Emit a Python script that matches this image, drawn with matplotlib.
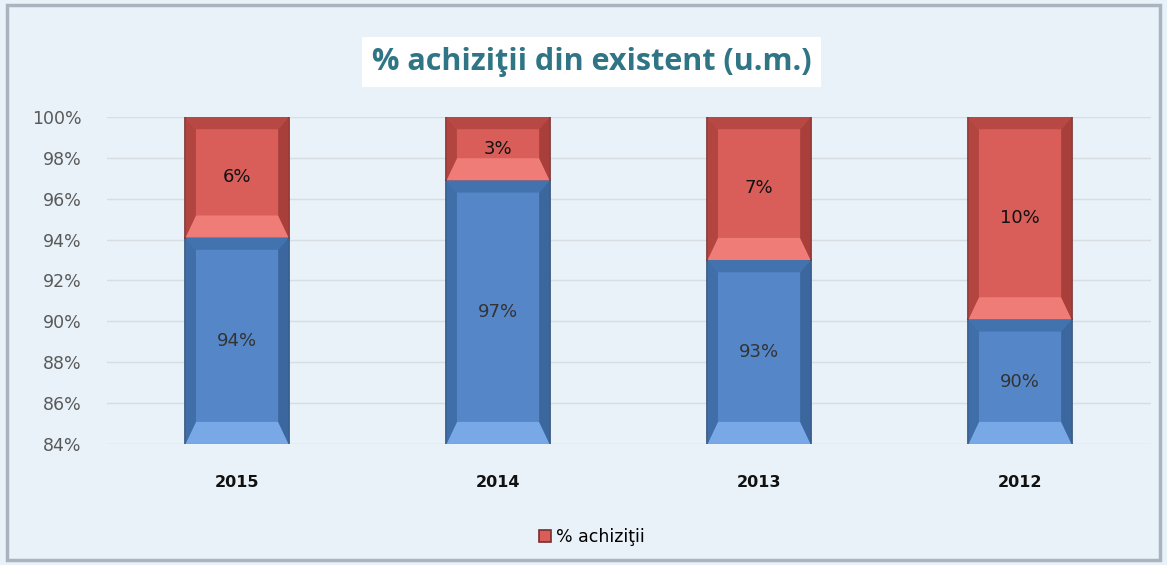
import matplotlib.pyplot as plt
from matplotlib.patches import Polygon, Rectangle

years = ['2015', '2014', '2013', '2012']
existent = [94.1, 96.9, 93.0, 90.1]
achizitii = [5.9, 3.1, 7.0, 9.9]
yticks = [84, 86, 88, 90, 92, 94, 96, 98, 100]
ymin = 84


def bevel(ax, patch, top, bottom, side_l, side_r, bw, bh):
    # fake the excel "bevel" look with four trapezoids inside the bar
    x0, y0 = patch.get_x(), patch.get_y()
    x1, y1 = x0 + patch.get_width(), y0 + patch.get_height()
    bh = min(bh, (y1 - y0) / 4)
    bb = bh * 1.8
    parts = [
        ([(x0, y1), (x1, y1), (x1 - bw, y1 - bh), (x0 + bw, y1 - bh)], top),
        ([(x0, y0), (x1, y0), (x1 - bw, y0 + bb), (x0 + bw, y0 + bb)], bottom),
        ([(x0, y0), (x0, y1), (x0 + bw, y1 - bh), (x0 + bw, y0 + bb)], side_l),
        ([(x1, y0), (x1, y1), (x1 - bw, y1 - bh), (x1 - bw, y0 + bb)], side_r),
    ]
    for pts, c in parts:
        ax.add_patch(Polygon(pts, closed=True, facecolor=c, edgecolor='none', zorder=3))


fig = plt.figure(figsize=(11.67, 5.65), dpi=100)
fig.patch.set_facecolor('#e9f2f9')
fig.add_artist(Rectangle((0.006, 0.008), 0.988, 0.984, transform=fig.transFigure,
                         facecolor='none', edgecolor='#a9b4be', linewidth=2.5))

ax = fig.add_axes([0.0913, 0.2142, 0.8946, 0.5788])
ax.set_facecolor('none')

x = list(range(len(years)))
width = 0.395
# blue bars start at the axis floor so the bevel shows at the bottom
b1 = ax.bar(x, [v - ymin for v in existent], width, bottom=ymin, color='#5587c8',
            edgecolor='#2f4f78', linewidth=1.2, zorder=2)
b2 = ax.bar(x, achizitii, width, bottom=existent, color='#d95d59', edgecolor='#7a2e2c',
            linewidth=1.2, zorder=2, label='% achiziţii')

bw = 0.04
bh = 0.6
for p in b1:
    bevel(ax, p, '#4373ae', '#78a8e6', '#3f6ea8', '#3b679e', bw, bh)
for p in b2:
    bevel(ax, p, '#b84843', '#f07c77', '#b34541', '#a83f3b', bw, bh)

for i in x:
    ax.text(i, ymin + (existent[i] - ymin) / 2, f'{existent[i]:.0f}%', ha='center', va='center',
            fontsize=13, color='#333333', zorder=5)
    ax.text(i, existent[i] + achizitii[i] / 2, f'{achizitii[i]:.0f}%', ha='center', va='center',
            fontsize=13, color='#111111', zorder=5)

ax.set_xlim(-0.5, len(years) - 0.5)
ax.set_ylim(ymin, 100)
ax.set_yticks(yticks)
ax.set_yticklabels([f'{v}%' for v in yticks], fontsize=12.5, color='#595959')
ax.set_xticks(x)
ax.set_xticklabels(years, fontsize=11.5, fontweight='bold', color='#111111')
ax.tick_params(axis='y', length=0, pad=18)
ax.tick_params(axis='x', length=0, pad=22)
ax.grid(axis='y', color='#d8dde2', linewidth=1, zorder=0)
ax.set_axisbelow(True)
for s in ax.spines.values():
    s.set_visible(False)

fig.text(0.507, 0.89, '% achiziţii din existent (u.m.)', ha='center', va='center',
         fontsize=22, fontweight='bold', color='#2f7585', family=['Open Sans', 'DejaVu Sans'],
         bbox=dict(facecolor='white', edgecolor='none', pad=7))

fig.legend(handles=[b2], loc='center', bbox_to_anchor=(0.507, 0.05), frameon=False,
           fontsize=12.5, handlelength=0.7, handleheight=0.7, handletextpad=0.3)

fig.savefig('out.png', dpi=100, facecolor=fig.get_facecolor())
